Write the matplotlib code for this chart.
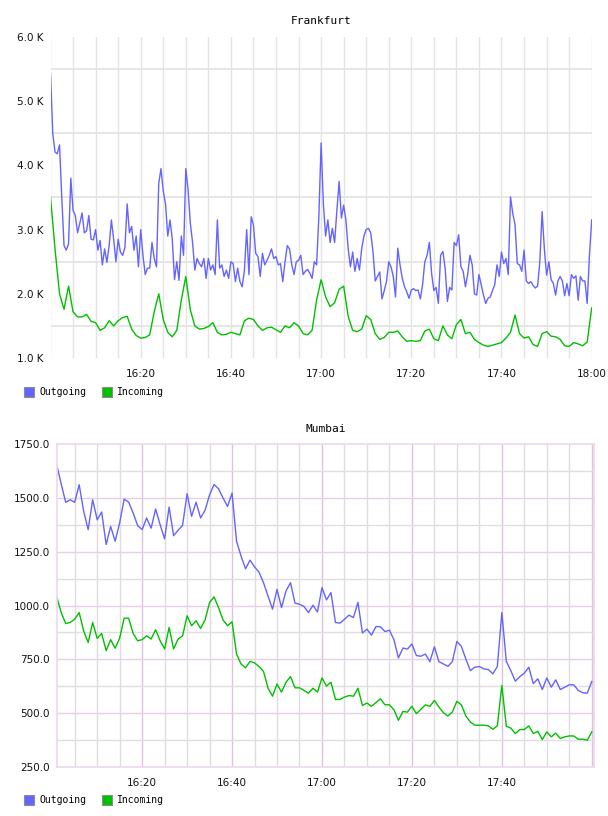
import pandas as pd
import matplotlib
matplotlib.use('Agg')
import matplotlib.pyplot as plt
import matplotlib.dates as mdates
from matplotlib.patches import Rectangle

# Frankfurt traffic (values in K), outgoing every 30 s, incoming every minute
fra_out = [
    5.44, 4.5, 4.21, 4.18, 4.32, 3.5, 2.75, 2.68, 2.78, 3.80,
    3.3, 3.22, 2.95, 3.1, 3.26, 2.95, 2.98, 3.22, 2.85, 2.84,
    3.0, 2.68, 2.83, 2.45, 2.7, 2.49, 2.75, 3.15, 2.85, 2.5,
    2.85, 2.65, 2.6, 2.72, 3.4, 2.95, 3.05, 2.68, 2.9, 2.42,
    3.0, 2.6, 2.3, 2.4, 2.4, 2.8, 2.55, 2.42, 3.72, 3.95,
    3.6, 3.4, 2.9, 3.15, 2.85, 2.22, 2.5, 2.21, 2.9, 2.6,
    3.95, 3.62, 3.1, 2.8, 2.37, 2.55, 2.47, 2.42, 2.55, 2.24,
    2.55, 2.37, 2.45, 2.3, 3.15, 2.4, 2.45, 2.27, 2.37, 2.24,
    2.5, 2.47, 2.19, 2.40, 2.19, 2.11, 2.37, 3.0, 2.3, 3.2,
    3.07, 2.63, 2.58, 2.27, 2.63, 2.45, 2.52, 2.6, 2.7, 2.55,
    2.58, 2.45, 2.47, 2.19, 2.5, 2.75, 2.7, 2.45, 2.3, 2.5,
    2.52, 2.6, 2.3, 2.35, 2.38, 2.32, 2.24, 2.5, 2.45, 3.2,
    4.35, 3.4, 2.9, 3.15, 2.8, 3.02, 2.8, 3.3, 3.75, 3.18,
    3.38, 3.15, 2.7, 2.42, 2.65, 2.35, 2.55, 2.37, 2.7, 2.9,
    3.0, 3.02, 2.95, 2.66, 2.2, 2.27, 2.34, 1.92, 2.05, 2.19,
    2.5, 2.42, 2.27, 1.95, 2.71, 2.45, 2.24, 2.11, 2.03, 1.93,
    2.06, 2.08, 2.05, 2.06, 1.92, 2.14, 2.5, 2.6, 2.8, 2.32,
    2.05, 2.1, 1.85, 2.6, 2.66, 2.4, 1.88, 2.1, 2.06, 2.8,
    2.75, 2.92, 2.42, 2.35, 2.11, 2.3, 2.6, 2.45, 2.0, 1.98,
    2.3, 2.14, 1.98, 1.85, 1.93, 1.95, 2.05, 2.14, 2.45, 2.27,
    2.65, 2.47, 2.55, 2.3, 3.51, 3.25, 3.08, 2.47, 2.45, 2.35,
    2.68, 2.2, 2.16, 2.19, 2.13, 2.09, 2.12, 2.5, 3.28, 2.7,
    2.29, 2.5, 2.22, 2.16, 1.98, 2.2, 2.27, 2.2, 1.97, 2.16,
    1.97, 2.3, 2.24, 2.28, 1.9, 2.27, 2.2, 2.2, 1.85, 2.6,
    3.15,
]
fra_in = [
    3.51, 2.7, 2.0, 1.76, 2.12, 1.72, 1.64, 1.64, 1.68, 1.57,
    1.55, 1.43, 1.47, 1.58, 1.50, 1.58, 1.63, 1.65, 1.45, 1.35,
    1.31, 1.32, 1.36, 1.72, 2.0, 1.6, 1.4, 1.33, 1.43, 1.9,
    2.27, 1.75, 1.5, 1.45, 1.46, 1.49, 1.55, 1.40, 1.36, 1.37,
    1.40, 1.38, 1.36, 1.58, 1.62, 1.60, 1.50, 1.43, 1.47, 1.48,
    1.44, 1.40, 1.50, 1.47, 1.55, 1.50, 1.38, 1.36, 1.43, 1.9,
    2.22, 1.95, 1.80, 1.86, 2.07, 2.12, 1.65, 1.43, 1.41, 1.45,
    1.66, 1.6, 1.38, 1.29, 1.32, 1.40, 1.40, 1.42, 1.33, 1.26,
    1.27, 1.26, 1.27, 1.42, 1.45, 1.30, 1.27, 1.50, 1.36, 1.3,
    1.52, 1.60, 1.38, 1.40, 1.29, 1.24, 1.20, 1.18, 1.20, 1.22,
    1.24, 1.31, 1.40, 1.67, 1.38, 1.31, 1.33, 1.21, 1.18, 1.38,
    1.41, 1.34, 1.33, 1.29, 1.19, 1.18, 1.24, 1.22, 1.19, 1.25,
    1.78,
]

# Mumbai traffic, one value per minute from 16:01
mum_out = [
    1654, 1566, 1480, 1492, 1480, 1562, 1438, 1353, 1492, 1399,
    1435, 1284, 1368, 1299, 1384, 1495, 1481, 1430, 1372, 1353,
    1407, 1360, 1449, 1376, 1310, 1458, 1325, 1350, 1373, 1520,
    1415, 1481, 1407, 1443, 1515, 1563, 1543, 1500, 1461, 1523,
    1299, 1230, 1171, 1211, 1180, 1155, 1106, 1044, 983, 1075,
    990, 1068, 1106, 1011, 1006, 995, 967, 1001, 970, 1083,
    1026, 1060, 921, 918, 936, 955, 944, 1015, 872, 890,
    862, 902, 901, 879, 885, 841, 756, 802, 797, 821,
    767, 764, 774, 739, 808, 739, 728, 717, 739, 833,
    810, 751, 697, 713, 716, 705, 702, 682, 716, 967,
    740, 697, 648, 669, 685, 713, 636, 659, 609, 663,
    620, 654, 609, 620, 631, 631, 605, 594, 592, 646,
]
mum_in = [
    1042, 967, 916, 921, 936, 967, 882, 828, 921, 847,
    870, 790, 841, 801, 848, 941, 941, 870, 836, 841,
    859, 844, 887, 836, 798, 898, 798, 844, 859, 952,
    906, 929, 893, 933, 1014, 1040, 990, 933, 906, 924,
    774, 728, 710, 740, 733, 716, 693, 615, 578, 635,
    597, 643, 669, 617, 617, 605, 592, 615, 597, 663,
    625, 643, 563, 563, 574, 581, 578, 615, 535, 546,
    531, 548, 566, 538, 538, 515, 466, 507, 504, 531,
    497, 517, 538, 531, 558, 528, 501, 486, 504, 554,
    538, 486, 458, 443, 443, 443, 440, 424, 440, 628,
    438, 430, 404, 423, 423, 440, 404, 415, 376, 412,
    389, 406, 381, 389, 393, 393, 378, 378, 373, 412,
]

day = '2024-01-01 '
fra_out_t = pd.date_range(day + '16:00', periods=len(fra_out), freq='30s')
fra_in_t = pd.date_range(day + '16:00', periods=len(fra_in), freq='1min')
mum_t = pd.date_range(day + '16:01', periods=len(mum_out), freq='1min')

OUT_C = '#6464ff'
IN_C = '#00c000'
W, H = 608, 816

fig = plt.figure(figsize=(W / 100, H / 100), dpi=100)

# ---------- Frankfurt ----------
ax1 = fig.add_axes([50.5 / W, 1 - 358 / H, 541.2 / W, 321 / H])
for t in pd.date_range(day + '16:00', day + '18:00', freq='5min'):
    ax1.axvline(t, color='#e4e4e4', lw=1.0, zorder=0)
for v in [1.5, 2.5, 3.5, 4.5, 5.5]:
    ax1.axhline(v, color='#e4e4e4', lw=1.3, zorder=0)
ax1.plot(fra_out_t, fra_out, color=OUT_C, lw=1.0)
ax1.plot(fra_in_t, fra_in, color=IN_C, lw=1.0)
ax1.set_xlim(pd.Timestamp(day + '16:00'), pd.Timestamp(day + '18:00'))
ax1.set_ylim(1.0, 6.0)
ax1.set_yticks([1, 2, 3, 4, 5, 6])
ax1.set_yticklabels(['%.1f K' % v for v in [1, 2, 3, 4, 5, 6]])
ax1.set_xticks(pd.date_range(day + '16:20', day + '18:00', freq='20min'))
ax1.xaxis.set_major_formatter(mdates.DateFormatter('%H:%M'))
for s in ax1.spines.values():
    s.set_visible(False)
ax1.set_title('Frankfurt', fontsize=8, family='DejaVu Sans Mono', pad=9)

# ---------- Mumbai ----------
ax2 = fig.add_axes([56.7 / W, 1 - 766.7 / H, 537.3 / W, 322.4 / H])
for t in pd.date_range(day + '16:05', day + '18:00', freq='5min'):
    major = t.minute % 20 == 0
    ax2.axvline(t, color='#dcc4dc' if major else '#e2dce2', lw=1.0, zorder=0)
for v in range(375, 1750, 125):
    ax2.axhline(v, color='#e6d0e6' if v % 250 == 0 else '#e2dde2', lw=1.0, zorder=0)
ax2.plot(mum_t, mum_out, color=OUT_C, lw=1.0)
ax2.plot(mum_t, mum_in, color=IN_C, lw=1.0)
ax2.set_xlim(pd.Timestamp(day + '16:01'), pd.Timestamp(day + '18:00:30'))
ax2.set_ylim(250, 1750)
ax2.set_yticks(range(250, 1751, 250))
ax2.set_yticklabels(['%.1f' % v for v in range(250, 1751, 250)])
ax2.set_xticks(pd.date_range(day + '16:20', day + '17:40', freq='20min'))
ax2.xaxis.set_major_formatter(mdates.DateFormatter('%H:%M'))
for s in ax2.spines.values():
    s.set_color('#ecd8ec')
    s.set_linewidth(1.2)
ax2.set_title('Mumbai', fontsize=8, family='DejaVu Sans Mono', pad=9)

for ax in (ax1, ax2):
    ax.tick_params(axis='both', length=0, labelsize=7.5, colors='#111111')
    ax.tick_params(axis='x', pad=8)
    ax.tick_params(axis='y', pad=5)

# legends drawn under each chart
def legend_row(y):
    for x, col, name in [(24, OUT_C, 'Outgoing'), (102, IN_C, 'Incoming')]:
        fig.add_artist(Rectangle((x / W, 1 - (y + 5) / H), 10 / W, 10 / H,
                                 transform=fig.transFigure, facecolor=col,
                                 edgecolor='#8c8c8c', lw=0.8))
        fig.text((x + 15) / W, 1 - y / H, name, fontsize=7,
                 family='DejaVu Sans Mono', va='center', ha='left')

legend_row(392)
legend_row(800)

plt.savefig('out.png', dpi=100)
